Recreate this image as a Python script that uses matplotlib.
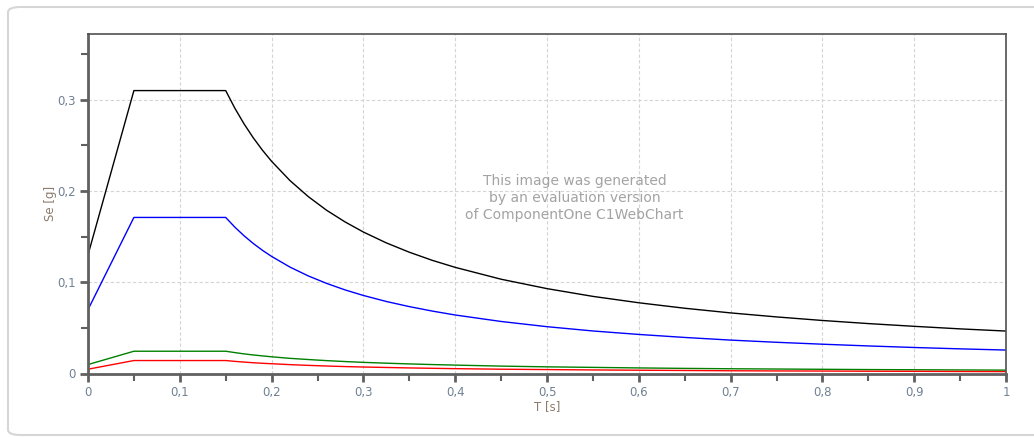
import matplotlib
matplotlib.use('Agg')
import matplotlib.pyplot as plt
from matplotlib.patches import FancyBboxPatch
from matplotlib.ticker import MultipleLocator, FuncFormatter

# periodi T [s]
T = [0, 0.05, 0.15, 0.16, 0.17, 0.18, 0.19, 0.2, 0.22, 0.24, 0.26, 0.28, 0.3,
     0.325, 0.35, 0.375, 0.4, 0.45, 0.5, 0.55, 0.6, 0.65, 0.7, 0.75, 0.8, 0.85,
     0.9, 0.95, 1.0]

# spettri Se [g]
se_nero = [0.13, 0.31, 0.31, 0.2906, 0.2735, 0.2583, 0.2447, 0.2325, 0.2114, 0.1938,
           0.1788, 0.1661, 0.155, 0.1431, 0.1329, 0.124, 0.1163, 0.1033, 0.093,
           0.0845, 0.0775, 0.0715, 0.0664, 0.062, 0.0581, 0.0547, 0.0517, 0.0489,
           0.0465]
se_blu = [0.07, 0.171, 0.171, 0.1603, 0.1509, 0.1425, 0.135, 0.1283, 0.1166, 0.1069,
          0.0987, 0.0916, 0.0855, 0.0789, 0.0733, 0.0684, 0.0641, 0.057, 0.0513,
          0.0466, 0.0428, 0.0395, 0.0366, 0.0342, 0.0321, 0.0302, 0.0285, 0.027,
          0.0257]
se_verde = [0.0098, 0.0244, 0.0244, 0.0229, 0.0215, 0.0203, 0.0193, 0.0183, 0.0166,
            0.0153, 0.0141, 0.0131, 0.0122, 0.0113, 0.0105, 0.0098, 0.0092, 0.0081,
            0.0073, 0.0067, 0.0061, 0.0056, 0.0052, 0.0049, 0.0046, 0.0043, 0.0041,
            0.0039, 0.0037]
se_rosso = [0.0047, 0.0142, 0.0142, 0.0133, 0.0125, 0.0118, 0.0112, 0.0107, 0.0097,
            0.0089, 0.0082, 0.0076, 0.0071, 0.0066, 0.0061, 0.0057, 0.0053, 0.0047,
            0.0043, 0.0039, 0.0036, 0.0033, 0.003, 0.0028, 0.0027, 0.0025, 0.0024,
            0.0022, 0.0021]

col_tick = '#6f8193'
col_label = '#8c7b6b'
col_asse = '#606060'

fig = plt.figure(figsize=(10.34, 4.37), dpi=100)
fig.patch.set_facecolor('white')

# cornice esterna arrotondata
cornice = FancyBboxPatch((8 / 1034, 2 / 437), 1.05, 428 / 437,
                         boxstyle='round,pad=0,rounding_size=0.012',
                         transform=fig.transFigure, fill=False,
                         edgecolor='#d6d6d6', linewidth=1.5, clip_on=False)
fig.patches.append(cornice)

ax = fig.add_axes([88 / 1034, 1 - 373.5 / 437, 918 / 1034, 339.5 / 437])

ax.plot(T, se_nero, color='black', lw=1.0)
ax.plot(T, se_blu, color='#0000ff', lw=1.0)
ax.plot(T, se_verde, color='#008000', lw=1.0)
ax.plot(T, se_rosso, color='#ff0000', lw=1.0)

ax.set_xlim(0, 1)
ax.set_ylim(0, 0.372)

ax.xaxis.set_major_locator(MultipleLocator(0.1))
ax.xaxis.set_minor_locator(MultipleLocator(0.05))
ax.yaxis.set_major_locator(MultipleLocator(0.1))
ax.yaxis.set_minor_locator(MultipleLocator(0.05))

virgola = FuncFormatter(lambda v, p: ('%g' % round(v, 2)).replace('.', ','))
ax.xaxis.set_major_formatter(virgola)
ax.yaxis.set_major_formatter(virgola)

ax.grid(True, which='major', linestyle=(0, (3, 2)), color='#d4d4d4', lw=0.8)

for s in ['left', 'bottom']:
    ax.spines[s].set_linewidth(2.0)
    ax.spines[s].set_color(col_asse)
for s in ['top', 'right']:
    ax.spines[s].set_linewidth(1.2)
    ax.spines[s].set_color('#505050')

ax.tick_params(which='major', direction='out', length=6, width=2, color=col_asse,
               labelcolor=col_tick, labelsize=8.5, pad=3)
ax.tick_params(which='minor', direction='out', length=5, width=1.5, color=col_asse)

ax.set_xlabel('T [s]', color=col_label, fontsize=8.5, labelpad=1)
ax.set_ylabel('Se [g]', color=col_label, fontsize=8.5, labelpad=0)

ax.text(0.53, 0.517, 'This image was generated\nby an evaluation version\nof ComponentOne C1WebChart',
        transform=ax.transAxes, ha='center', va='center', color='#a3a3a3',
        fontsize=10, linespacing=1.3)

fig.savefig('out.png', dpi=100)
